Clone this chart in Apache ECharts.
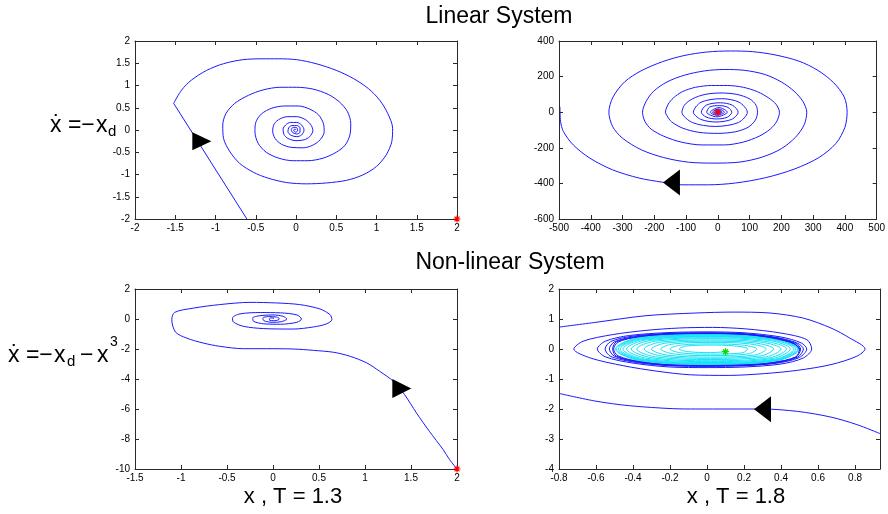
<!DOCTYPE html>
<html>
<head>
<meta charset="utf-8">
<script src="https://cdn.jsdelivr.net/npm/echarts@6.0.0/dist/echarts.min.js"></script>
<style>
  html, body { margin: 0; padding: 0; background: #ffffff; }
  #chart { width: 888px; height: 514px; }
</style>
</head>
<body>
<div id="chart"></div>
<script>
// Phase portraits (x, xdot) of the delayed systems  xdot = -x(t-T)  and  xdot = -x(t-T) - x^3

// ---- linear system, T = 1.3 ----
// constant-history start and the straight transient leg
// (the first leg runs along xdot = -2, under the bottom frame line)
const linT13History = [[2, -2], [-0.61, -2], [-1.52, 0.60]];
// decaying spiral into the origin
const linT13Spiral = [
  [-1.52, 0.60], [-1.42, 0.90], [-1.30, 1.12], [-1.11, 1.34], [-0.90, 1.49], [-0.66, 1.58], [-0.41, 1.60],
  [-0.22, 1.60], [0.01, 1.58], [0.25, 1.49], [0.50, 1.34], [0.71, 1.16], [0.90, 0.93], [1.04, 0.67],
  [1.14, 0.37], [1.20, 0.04], [1.19, -0.26], [1.12, -0.56], [1.00, -0.82], [0.83, -1.01], [0.63, -1.13],
  [0.38, -1.19], [0.13, -1.21], [-0.12, -1.18], [-0.35, -1.08], [-0.53, -0.95], [-0.70, -0.75], [-0.82, -0.49],
  [-0.90, -0.19], [-0.91, 0.11], [-0.87, 0.37], [-0.76, 0.60], [-0.59, 0.78], [-0.41, 0.90], [-0.20, 0.96],
  [0.01, 0.96], [0.21, 0.92], [0.40, 0.80], [0.54, 0.63], [0.64, 0.41], [0.68, 0.15], [0.67, -0.11],
  [0.61, -0.34], [0.50, -0.50], [0.34, -0.63], [0.15, -0.69], [-0.04, -0.69], [-0.22, -0.63], [-0.37, -0.50],
  [-0.47, -0.30], [-0.51, -0.04], [-0.50, 0.17], [-0.43, 0.36], [-0.30, 0.49], [-0.14, 0.54], [0.03, 0.54],
  [0.17, 0.47], [0.28, 0.34], [0.34, 0.15], [0.35, -0.04], [0.30, -0.22], [0.21, -0.34], [0.09, -0.40],
  [-0.06, -0.39], [-0.18, -0.32], [-0.26, -0.19], [-0.29, -0.02], [-0.27, 0.14], [-0.20, 0.25], [-0.10, 0.30],
  [0.01, 0.30], [0.11, 0.24], [0.18, 0.13], [0.21, -0.01], [0.17, -0.15], [0.10, -0.22], [0.00, -0.24],
  [-0.10, -0.19], [-0.15, -0.10], [-0.16, 0.02], [-0.13, 0.11], [-0.07, 0.17], [0.01, 0.17], [0.07, 0.11],
  [0.10, 0.00], [0.07, -0.11], [0.01, -0.15], [-0.06, -0.12], [-0.10, -0.04], [-0.09, 0.05], [-0.05, 0.10],
  [0.01, 0.10], [0.05, 0.05], [0.05, -0.05], [0.01, -0.09], [-0.04, -0.06], [-0.06, 0.01], [-0.03, 0.06],
  [0.01, 0.05], [0.02, -0.02], [-0.01, -0.05], [-0.03, 0.00], [-0.01, 0.02], [0, 0]
];

// ---- linear system, T = 1.8 : growing spiral out of the origin ----
const linT18Spiral = [
  [0, 0], [1, 5], [6, 0], [0, -5], [-7, 0],
  [1, 8], [10, 0], [-1, -8], [-11, 0],
  [2, 12], [14, 0], [-1, -12], [-17, 0],
  [3, 18], [21, 0], [-2, -18], [-24, 0],
  [4, 26], [30, 0], [-3, -26], [-35, 0],
  [-25, 30], [6, 37], [32, 27], [44, 0], [30, -28], [-4, -38], [-37, -27], [-52, 0],
  [-36, 40], [8, 53], [46, 39], [64, 0], [44, -40], [-6, -55], [-54, -40], [-77, 0],
  [-53, 56], [12, 76], [67, 56], [93, 0], [65, -58], [-8, -80], [-80, -58], [-113, 0],
  [-105, 40], [-80, 75], [-40, 100], [10, 108], [60, 100], [100, 75], [120, 40], [125, 0], [118, -45],
  [95, -85], [55, -110], [0, -119], [-60, -113], [-110, -90], [-145, -55], [-160, -20], [-165, 0],
  [-156, 45], [-140, 80], [-112, 115], [-70, 140], [-20, 150], [30, 150], [80, 140], [125, 115], [160, 80],
  [183, 45], [194, 0], [186, -50], [165, -95], [130, -135], [80, -168], [20, -184], [-50, -184],
  [-115, -168], [-170, -135], [-210, -95], [-230, -50], [-237, 0],
  [-226, 60], [-202, 118], [-160, 170], [-105, 208], [-42, 232], [22, 240], [85, 235], [148, 212],
  [200, 170], [240, 118], [268, 60], [280, 0], [272, -70], [245, -140], [200, -205], [140, -252],
  [70, -280], [-9, -286], [-92, -281], [-170, -255], [-240, -212], [-300, -146], [-331, -81], [-343, 0],
  [-330, 85], [-293, 171], [-242, 232], [-174, 284], [-107, 318], [-35, 338], [40, 344], [110, 340],
  [180, 322], [255, 287], [315, 235], [365, 165], [398, 85], [407, 0], [400, -85], [372, -175],
  [318, -255], [240, -320], [150, -368], [55, -398], [-30, -408], [-113, -408], [-175, -393],
  [-248, -370], [-331, -324], [-403, -258], [-455, -184], [-486, -109], [-495, -53], [-497, 30]
];

// ---- non-linear system, T = 1.3 ----
const nlT13Spiral = [
  [2.00, -10.00], [1.92, -9.38], [1.85, -8.71], [1.70, -7.49], [1.56, -6.27], [1.43, -5.04], [1.31, -4.16],
  [1.16, -3.49], [1.02, -2.93], [0.84, -2.49], [0.66, -2.22], [0.44, -2.09], [0.22, -2.00], [-0.07, -1.98],
  [-0.32, -1.98], [-0.58, -1.82], [-0.76, -1.60], [-0.94, -1.27], [-1.06, -0.87], [-1.10, -0.04],
  [-1.07, 0.44], [-0.86, 0.73], [-0.58, 0.96], [-0.25, 1.11], [0.04, 1.07], [0.29, 0.96], [0.51, 0.67],
  [0.62, 0.29], [0.64, -0.04], [0.58, -0.33], [0.44, -0.53], [0.22, -0.67], [-0.10, -0.64], [-0.32, -0.49],
  [-0.43, -0.20], [-0.44, 0.07], [-0.36, 0.34], [-0.14, 0.43], [0.08, 0.41], [0.26, 0.27], [0.31, 0.00],
  [0.26, -0.22], [0.08, -0.35], [-0.10, -0.32], [-0.21, -0.16], [-0.22, 0.07], [-0.14, 0.22], [0.00, 0.27],
  [0.11, 0.18], [0.15, 0.00], [0.09, -0.18], [-0.01, -0.22], [-0.10, -0.11], [-0.11, 0.07], [-0.05, 0.16],
  [0.04, 0.13], [0.07, 0.00], [0.02, -0.11], [-0.04, -0.07], [-0.03, 0.07], [0.01, 0.07], [0, 0]
];

// ---- non-linear system, T = 1.8 ----
// outer trajectory: first pass along the bottom, leaving the window on the left
const nlT18OuterEntry = [
  [0.935, -2.82], [0.81, -2.52], [0.67, -2.27], [0.49, -2.08], [0.30, -2.00], [0.12, -2.00],
  [-0.06, -2.00], [-0.18, -1.99], [-0.42, -1.89], [-0.60, -1.74], [-0.80, -1.48]
];
// outer trajectory after re-entering: winds down onto the limit cycle
const nlT18OuterSpiral = [
  [-0.80, 0.73], [-0.60, 0.89], [-0.33, 1.11], [-0.06, 1.20], [0.14, 1.23], [0.34, 1.20], [0.52, 1.03],
  [0.67, 0.70], [0.77, 0.37], [0.854, 0.00], [0.81, -0.24], [0.67, -0.52], [0.49, -0.71], [0.31, -0.82],
  [0.12, -0.88], [-0.09, -0.86], [-0.27, -0.74], [-0.45, -0.56], [-0.63, -0.30], [-0.72, 0.00],
  [-0.67, 0.26], [-0.51, 0.48], [-0.33, 0.62], [-0.15, 0.70], [0.03, 0.72], [0.21, 0.67], [0.40, 0.53],
  [0.54, 0.31], [0.566, 0.00],
  [0.52, -0.30], [0.40, -0.50], [0.20, -0.60], [0.00, -0.62], [-0.20, -0.60], [-0.40, -0.47], [-0.55, -0.26],
  [-0.593, 0.00], [-0.55, 0.26], [-0.42, 0.45], [-0.20, 0.55], [0.00, 0.57], [0.20, 0.54], [0.40, 0.40],
  [0.51, 0.20], [0.539, 0.00],
  [0.50, -0.28], [0.38, -0.47], [0.20, -0.56], [0.00, -0.58], [-0.20, -0.56], [-0.38, -0.45], [-0.52, -0.25],
  [-0.551, 0.00], [-0.52, 0.25], [-0.40, 0.43], [-0.20, 0.52], [0.00, 0.54], [0.20, 0.51], [0.38, 0.38],
  [0.49, 0.19], [0.521, 0.00],
  [0.49, -0.27], [0.37, -0.46], [0.20, -0.54], [0.00, -0.56], [-0.20, -0.54], [-0.37, -0.44], [-0.50, -0.24],
  [-0.528, 0.00], [-0.50, 0.24], [-0.38, 0.42], [-0.20, 0.51], [0.00, 0.53], [0.20, 0.50], [0.37, 0.37],
  [0.48, 0.19], [0.506, 0.00],
  [0.48, -0.27], [0.36, -0.45], [0.20, -0.54], [0.00, -0.55], [-0.20, -0.53], [-0.36, -0.43], [-0.49, -0.24],
  [-0.51, 0.00], [-0.49, 0.24], [-0.37, 0.41], [-0.20, 0.50], [0.00, 0.52], [0.20, 0.49], [0.36, 0.37],
  [0.47, 0.18], [0.50, 0.00],
  [0.48, -0.26], [0.36, -0.45], [0.20, -0.53], [0.00, -0.55], [-0.20, -0.53], [-0.36, -0.43], [-0.48, -0.23],
  [-0.505, 0.00], [-0.48, 0.23], [-0.37, 0.41], [-0.20, 0.50], [0.00, 0.515], [0.20, 0.49], [0.36, 0.36],
  [0.47, 0.18], [0.50, 0.00]
];
// inner trajectory: grows from near the origin out to the same limit cycle
const nlT18InnerSpiral = [
  [0.10, -0.09], [0.02, -0.12], [-0.10, -0.09], [-0.15, 0.00], [-0.11, 0.10], [0.02, 0.13], [0.15, 0.10], [0.22, 0.00],
  [0.19, -0.13], [0.02, -0.17], [-0.14, -0.13], [-0.20, 0.00], [-0.14, 0.13], [0.02, 0.17], [0.19, 0.13], [0.27, 0.00],
  [0.22, -0.165], [0.02, -0.22], [-0.18, -0.165], [-0.25, 0.00], [-0.18, 0.17], [0.02, 0.22], [0.23, 0.17], [0.32, 0.00],
  [0.26, -0.20], [0.02, -0.27], [-0.22, -0.20], [-0.30, 0.00], [-0.22, 0.20], [0.02, 0.26], [0.26, 0.20], [0.36, 0.00],
  [0.29, -0.23], [0.02, -0.31], [-0.25, -0.23], [-0.34, 0.00], [-0.25, 0.23], [0.02, 0.30], [0.29, 0.23], [0.40, 0.00],
  [0.32, -0.26], [0.02, -0.35], [-0.28, -0.26], [-0.38, 0.00], [-0.28, 0.26], [0.02, 0.34], [0.31, 0.26], [0.43, 0.00],
  [0.34, -0.29], [0.02, -0.39], [-0.30, -0.29], [-0.41, 0.00], [-0.30, 0.29], [0.02, 0.37], [0.33, 0.29], [0.45, 0.00],
  [0.355, -0.315], [0.02, -0.42], [-0.32, -0.315], [-0.435, 0.00], [-0.32, 0.31], [0.02, 0.40], [0.345, 0.31], [0.47, 0.00],
  [0.365, -0.34], [0.02, -0.45], [-0.335, -0.34], [-0.455, 0.00], [-0.335, 0.33], [0.02, 0.42], [0.355, 0.33], [0.48, 0.00],
  [0.37, -0.355], [0.02, -0.47], [-0.345, -0.355], [-0.47, 0.00], [-0.345, 0.345], [0.02, 0.44], [0.36, 0.345], [0.49, 0.00],
  [0.375, -0.37], [0.02, -0.49], [-0.355, -0.37], [-0.48, 0.00], [-0.355, 0.36], [0.02, 0.46], [0.365, 0.36], [0.495, 0.00],
  [0.38, -0.38], [0.02, -0.50], [-0.36, -0.38], [-0.49, 0.00], [-0.36, 0.375], [0.02, 0.48], [0.37, 0.375], [0.50, 0.00],
  [0.38, -0.385], [0.02, -0.51], [-0.365, -0.385], [-0.495, 0.00], [-0.365, 0.385], [0.02, 0.49], [0.375, 0.38], [0.50, 0.00]
];

// initial states (asterisks) and direction markers, one per panel
const startPoints = [[2, -2], [0, 0], [2, -10], [0.10, -0.09]];
const arrowPoints = [[-1.17, -0.25], [-146, -395], [1.40, -4.64], [0.30, -2.01]];

// axis ranges per panel: [min, max, step]
const xRanges = [[-2, 2, 0.5], [-500, 500, 100], [-1.5, 2, 0.5], [-0.8, 0.935, 0.2]];
const yRanges = [[-2, 2, 0.5], [-600, 400, 200], [-10, 2, 2], [-4, 2, 1]];

const FONT = '"Liberation Sans", Arial, Helvetica, sans-serif';
const AXIS = '#2a2a2a';
const BLUE = '#1a1aff';
const CYAN = '#14e2f6';

const grids = [
  { left: 135, top: 41, width: 322, height: 178 },
  { left: 559, top: 41, width: 321, height: 178 },
  { left: 135, top: 289, width: 322, height: 180 },
  { left: 559, top: 289, width: 321, height: 180 }
];

const xAxes = [], yAxes = [];
grids.forEach(function (g, i) {
  ['bottom', 'top'].forEach(function (pos) {
    xAxes.push({
      type: 'value', gridIndex: i, position: pos, z: 10,
      min: xRanges[i][0], max: xRanges[i][1], interval: xRanges[i][2],
      axisLine: { show: true, onZero: false, lineStyle: { color: AXIS, width: 1 } },
      axisTick: { show: true, inside: true, length: 4, lineStyle: { color: AXIS } },
      axisLabel: {
        show: pos === 'bottom', color: '#000', fontSize: 10, fontFamily: FONT, margin: 4,
        showMaxLabel: i !== 3, hideOverlap: false
      },
      splitLine: { show: false }
    });
  });
  ['left', 'right'].forEach(function (pos) {
    yAxes.push({
      type: 'value', gridIndex: i, position: pos, z: 10,
      min: yRanges[i][0], max: yRanges[i][1], interval: yRanges[i][2],
      axisLine: { show: true, onZero: false, lineStyle: { color: AXIS, width: 1 } },
      axisTick: { show: true, inside: true, length: 4, lineStyle: { color: AXIS } },
      axisLabel: { show: pos === 'left', color: '#000', fontSize: 10, fontFamily: FONT, margin: 5, hideOverlap: false },
      splitLine: { show: false }
    });
  });
});

function curve(panel, data, color, smooth, z) {
  return {
    type: 'line', xAxisIndex: 2 * panel, yAxisIndex: 2 * panel, data: data,
    symbol: 'none', smooth: smooth, clip: true, silent: true, z: z || 2,
    lineStyle: { color: color, width: 1 }
  };
}

const ASTERISK = 'path://M5 0L5 10M0 5L10 5M1.5 1.5L8.5 8.5M1.5 8.5L8.5 1.5';
const starColors = ['#ff0000', '#ff0000', '#ff0000', '#00dd00'];
const arrowSizes = [[18, 19], [26, 17], [19, 19], [26, 17]];
const arrowRot = [-90, 90, -90, 90];

const series = [
  // the leg lying on the frame line is covered by the axis, so only the rising leg is stroked
  curve(0, linT13History.slice(1), BLUE, false),
  curve(0, linT13Spiral, BLUE, 0.3),
  curve(1, linT18Spiral, BLUE, 0.3),
  curve(2, nlT13Spiral, BLUE, 0.3),
  curve(3, nlT18InnerSpiral, CYAN, 0.35, 2),
  curve(3, nlT18OuterEntry, BLUE, 0.3, 3),
  curve(3, nlT18OuterSpiral, BLUE, 0.3, 3)
];

startPoints.forEach(function (p, i) {
  series.push({
    type: 'scatter', xAxisIndex: 2 * i, yAxisIndex: 2 * i, data: [p], silent: true, z: 12, clip: false,
    symbol: ASTERISK, symbolSize: 7,
    itemStyle: { color: 'rgba(0,0,0,0)', borderColor: starColors[i], borderWidth: 1.2, opacity: 1 }
  });
});
arrowPoints.forEach(function (p, i) {
  series.push({
    type: 'scatter', xAxisIndex: 2 * i, yAxisIndex: 2 * i, data: [p], silent: true, z: 11,
    symbol: 'triangle', symbolSize: arrowSizes[i], symbolRotate: arrowRot[i],
    itemStyle: { color: '#000000', opacity: 1 }
  });
});

function label(x, y, text, size, align) {
  return {
    type: 'text', x: x, y: y, silent: true,
    style: { text: text, fill: '#000', fontSize: size, fontFamily: FONT, align: align || 'left', verticalAlign: 'middle' }
  };
}

const graphic = [
  label(499, 17, 'Linear System', 23, 'center'),
  label(510, 263, 'Non-linear System', 23, 'center'),
  label(293, 497, 'x , T = 1.3', 22, 'center'),
  label(736, 497, 'x , T = 1.8', 22, 'center'),
  // xdot = -x_d
  label(50, 126, '\u1E8B =\u2212', 23),
  label(96, 126, 'x', 23),
  label(108, 132, 'd', 15),
  // xdot = -x_d - x^3
  label(8, 356, '\u1E8B =\u2212', 23),
  label(54, 356, 'x', 23),
  label(67, 362, 'd', 15),
  label(80, 356, '\u2212', 23),
  label(97, 356, 'x', 23),
  label(110, 342, '3', 14)
];

const chart = echarts.init(document.getElementById('chart'), null, { renderer: 'canvas' });
chart.setOption({
  animation: false,
  backgroundColor: '#ffffff',
  grid: grids,
  xAxis: xAxes,
  yAxis: yAxes,
  series: series,
  graphic: graphic
});
</script>
</body>
</html>
